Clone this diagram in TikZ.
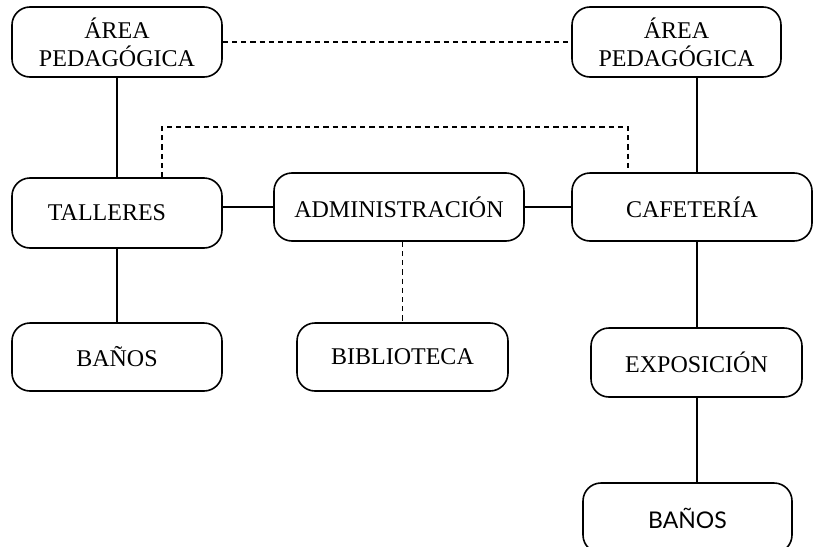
\documentclass[tikz,border=0pt]{standalone}
\usepackage{fontspec}
\setmainfont{Liberation Serif}
\newfontfamily\humsans{Lato}
\begin{document}
\begin{tikzpicture}[x=0.5pt,y=-0.5pt,
  box/.style={draw, line width=0.8pt, rounded corners=9pt, align=center,
    minimum width=105pt, minimum height=35pt, inner sep=0pt,
    font=\fontsize{12}{14}\selectfont},
  conn/.style={line width=0.8pt},
  dconn/.style={line width=0.8pt, dash pattern=on 2.6pt off 2pt}]
\useasboundingbox (0,0) rectangle (813,546);
\node[box] (apL) at (117,42) {ÁREA\\PEDAGÓGICA};
\node[box, minimum width=104.5pt] (apR) at (676.5,42) {ÁREA\\PEDAGÓGICA};
\node[box] (tal) at (117,213) {TALLERES\hspace{10pt}};
\node[box, minimum width=125pt, minimum height=34pt] (adm) at (399,207) {ADMINISTRACIÓN};
\node[box, minimum width=120pt, minimum height=34pt] (caf) at (692,207) {CAFETERÍA};
\node[box, minimum height=34pt] (banL) at (117,357) {BAÑOS};
\node[box, minimum width=105.5pt, minimum height=34pt] (bib) at (402.5,357) {BIBLIOTECA};
\node[box, minimum width=105.5pt, minimum height=34.5pt] (exp) at (696.5,362.5) {EXPOSICIÓN};
\node[box, minimum width=104.5pt, font=\humsans\fontsize{11.5}{14}\selectfont] (banR) at (687.5,518) {BAÑOS};
\coordinate (d1) at (162,127);
\coordinate (d2) at (628,127);
\coordinate (vx) at (697,0);
\draw[conn] (apL) -- (tal);
\draw[dconn] (apL.east) -- (apR.west);
\draw[dconn] (tal.north -| d1) -- (d1) -- (d2) -- (caf.north -| d2);
\draw[conn] (adm.west -| tal.east) -- (adm.west);
\draw[conn] (adm.east) -- (caf.west);
\draw[dconn] (adm.south -| bib.north) -- (bib.north);
\draw[conn] (apR.south -| vx) -- (caf.north -| vx);
\draw[conn] (caf.south -| vx) -- (exp.north -| vx);
\draw[conn] (exp.south -| vx) -- (banR.north -| vx);
\draw[conn] (banL.north -| tal.south) -- (tal.south);
\end{tikzpicture}
\end{document}
